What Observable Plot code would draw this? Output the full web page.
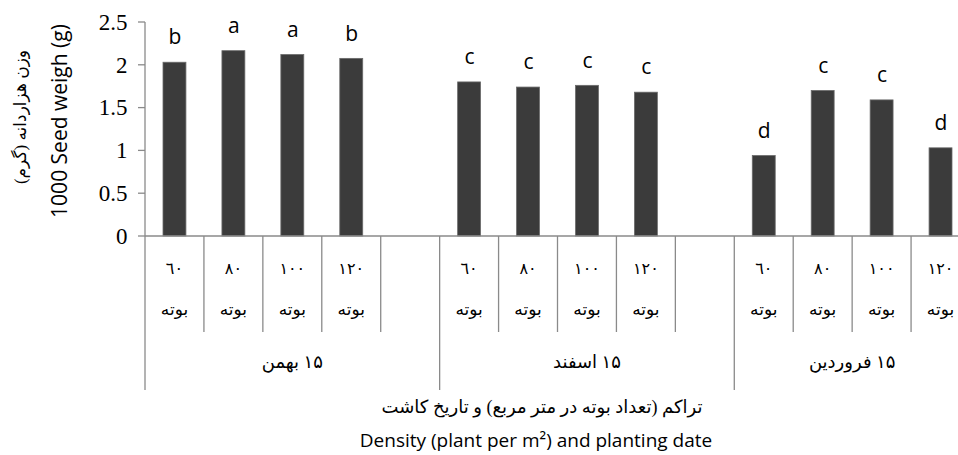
<!DOCTYPE html>
<html><head><meta charset="utf-8">
<script src="https://cdn.jsdelivr.net/npm/d3@7"></script>
<script src="https://cdn.jsdelivr.net/npm/@observablehq/plot@0.6"></script>
<style>body{margin:0;background:#fff} svg{display:block}</style>
</head><body><div id="chart"></div>
<script>
// ---- data ----
const dates = ["۱۵ بهمن", "۱۵ اسفند", "۱۵ فروردین"];
const densities = ["٦٠", "٨٠", "١٠٠", "١٢٠"];
const unitLabel = "بوته";
const weightsBahman = [2.03, 2.165, 2.12, 2.075];
const weightsEsfand = [1.80, 1.74, 1.76, 1.68];
const weightsFarvardin = [0.94, 1.70, 1.59, 1.03];
const lettersBahman = ["b", "a", "a", "b"];
const lettersEsfand = ["c", "c", "c", "c"];
const lettersFarvardin = ["d", "c", "c", "d"];
const yTicks = [0, 0.5, 1, 1.5, 2, 2.5];
const yTitleFa = "وزن هزاردانه (گرم)";
const yTitleEn = "1000 Seed weigh (g)";
const xTitleFa = "تراکم (تعداد بوته در متر مربع) و تاریخ کاشت";
const xTitleEn = "Density (plant per m²) and planting date";

const weights = [weightsBahman, weightsEsfand, weightsFarvardin];
const letters = [lettersBahman, lettersEsfand, lettersFarvardin];

// slot domain: 4 density slots per date, with an empty slot between dates
const slots = [];
const rows = [];
dates.forEach((g, gi) => {
  densities.forEach((d, di) => {
    const key = `${gi}-${di}`;
    slots.push(key);
    rows.push({slot: key, date: g, density: d, value: weights[gi][di], letter: letters[gi][di]});
  });
  if (gi < dates.length - 1) slots.push(`${gi}-gap`);
});

const GRAY = "#8a8a8a";
const FA = "'Liberation Serif', 'DejaVu Sans', serif";
const SANS = "'Open Sans', 'Liberation Sans', sans-serif";

function frame(index, scales) {
  const {x, y} = scales;
  const bw = x(slots[1]) - x(slots[0]);
  const x0 = x(slots[0]);
  const xEnd = x(slots[slots.length - 1]) + bw;
  const y0 = y(0);
  const yInner = y0 + 96, yGroup = y0 + 154;
  const g = d3.create("svg:g");
  const line = (x1, y1, x2, y2) => g.append("line").attr("x1", x1).attr("y1", y1).attr("x2", x2).attr("y2", y2)
    .attr("stroke", GRAY).attr("stroke-width", 1.3);
  // y axis
  line(x0, y(2.5), x0, yGroup);
  yTicks.forEach(t => line(x0 - 7, y(t), x0, y(t)));
  // x axis
  line(x0, y0, xEnd, y0);
  // slot boundaries
  slots.forEach((s, i) => {
    if (i === 0) return;
    const bx = x(s);
    const startsGroup = !s.endsWith("gap") && slots[i - 1].endsWith("gap");
    line(bx, y0, bx, startsGroup ? yGroup : yInner);
  });
  line(xEnd, y0, xEnd, yGroup);
  // density labels
  rows.forEach(r => {
    const cx = x(r.slot) + bw / 2;
    g.append("text").attr("x", cx).attr("y", y0 + 38).attr("text-anchor", "middle")
      .attr("font-family", FA).attr("font-size", 16).attr("direction", "rtl").text(r.density);
    g.append("text").attr("x", cx).attr("y", y0 + 79).attr("text-anchor", "middle")
      .attr("font-family", FA).attr("font-size", 17).attr("direction", "rtl").text(unitLabel);
  });
  // date labels
  dates.forEach((d, gi) => {
    const gs = slots.filter(s => s.startsWith(gi + "-") && !s.endsWith("gap"));
    const a = x(gs[0]);
    const nextGroup = slots.find(s => s.startsWith((gi + 1) + "-"));
    const b = nextGroup ? x(nextGroup) : xEnd;
    g.append("text").attr("x", (a + b) / 2).attr("y", y0 + 132).attr("text-anchor", "middle")
      .attr("font-family", FA).attr("font-size", 18).attr("direction", "rtl").text(d);
  });
  // titles
  g.append("text").attr("x", 542).attr("y", 177 + y0).attr("text-anchor", "middle")
    .attr("font-family", FA).attr("font-size", 18).attr("direction", "rtl").text(xTitleFa);
  g.append("text").attr("x", 536).attr("y", 211 + y0).attr("text-anchor", "middle")
    .attr("font-family", SANS).attr("font-size", 19).text(xTitleEn);
  g.append("text").attr("transform", "translate(26,117) rotate(-90)").attr("text-anchor", "middle")
    .attr("font-family", FA).attr("font-size", 17).attr("direction", "rtl").text(yTitleFa);
  g.append("text").attr("transform", "translate(67,121) rotate(-90)").attr("text-anchor", "middle")
    .attr("font-family", SANS).attr("font-size", 21).text(yTitleEn);
  return g.node();
}

const chart = Plot.plot({
  width: 958,
  height: 455,
  marginLeft: 145,
  marginTop: 22,
  marginBottom: 219,
  marginRight: 0,
  style: {background: "white", overflow: "hidden"},
  x: {type: "band", domain: slots, range: [145, 970], padding: 0, round: false, axis: null},
  y: {domain: [0, 2.5], range: [236, 22], axis: null},
  marks: [
    Plot.barY(rows, {x: "slot", y: "value", fill: "#3b3b3b", stroke: "#6a6a6a", strokeWidth: 0.8, insetLeft: 18, insetRight: 18}),
    Plot.text(rows, {x: "slot", y: "value", text: "letter", dy: -25, fontSize: 21, fontFamily: SANS, fill: "#000"}),
    Plot.axisY({ticks: yTicks, tickFormat: d => String(d), tickSize: 0, tickPadding: 18, label: null, fontSize: 23, fontFamily: "'Liberation Serif', serif", fill: "#000"}),
    frame
  ]
});
document.getElementById("chart").appendChild(chart);
</script>
</body></html>
